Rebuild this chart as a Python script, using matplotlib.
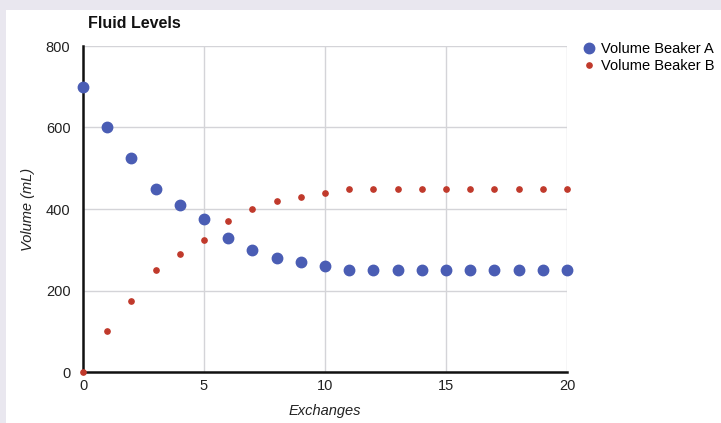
import matplotlib
matplotlib.use('Agg')
import matplotlib.pyplot as plt
from matplotlib.patches import Rectangle

plt.rcParams['font.family'] = ['Liberation Sans', 'DejaVu Sans']

# Data
exchanges = list(range(21))
volume_a = [700, 600, 525, 450, 410, 375, 330, 300, 280, 270, 260,
            250, 250, 250, 250, 250, 250, 250, 250, 250, 250]
volume_b = [0, 100, 175, 250, 290, 325, 370, 400, 420, 430, 440,
            450, 450, 450, 450, 450, 450, 450, 450, 450, 450]
x_ticks = [0, 5, 10, 15, 20]
y_ticks = [0, 200, 400, 600, 800]

W, H = 721, 423
fig = plt.figure(figsize=(W / 100, H / 100), dpi=100, facecolor='#e9e7ef')

# white panel behind everything
fig.patches.append(Rectangle((6 / W, 0), 1, 1 - 10 / H, transform=fig.transFigure,
                             facecolor='white', edgecolor='none', zorder=-10))

ax = fig.add_axes([83 / W, 1 - 372 / H, (567 - 83) / W, (372 - 46) / H])
ax.set_facecolor('white')
ax.set_xlim(0, 20)
ax.set_ylim(0, 800)
ax.set_xticks(x_ticks)
ax.set_yticks(y_ticks)
ax.grid(True, color='#d4d4d8', linewidth=1)
ax.set_axisbelow(True)

for side in ['top', 'right']:
    ax.spines[side].set_visible(False)
ax.spines['left'].set_linewidth(1.8)
ax.spines['bottom'].set_linewidth(1.8)
ax.spines['left'].set_color('#111111')
ax.spines['bottom'].set_color('#111111')
ax.tick_params(axis='x', length=0, labelsize=10.5, colors='#222222', pad=5)
ax.tick_params(axis='y', length=0, labelsize=10.5, colors='#222222', pad=9)

ax.plot(exchanges, volume_a, 'o', color='#4a5db4', markersize=7.5,
        label='Volume Beaker A', clip_on=False, zorder=3)
ax.plot(exchanges, volume_b, 'o', color='#c0392b', markersize=3.8,
        label='Volume Beaker B', clip_on=False, zorder=4)

ax.set_xlabel('Exchanges', style='italic', fontsize=10.5, color='#222222', labelpad=8)
ax.set_ylabel('Volume (mL)', style='italic', fontsize=10.5, color='#222222', labelpad=8)

fig.text(88 / W, 1 - 23 / H, 'Fluid Levels', fontsize=11.5, fontweight='bold',
         color='#111111', va='center', ha='left')

handles, labels = ax.get_legend_handles_labels()
fig.legend(handles, labels, loc='upper left', bbox_to_anchor=(576 / W, 1 - 36 / H),
           frameon=False, fontsize=10.5, handletextpad=0.3, labelspacing=0.25,
           handlelength=1.0, borderaxespad=0)

fig.savefig('out.png', dpi=100, facecolor=fig.get_facecolor())
